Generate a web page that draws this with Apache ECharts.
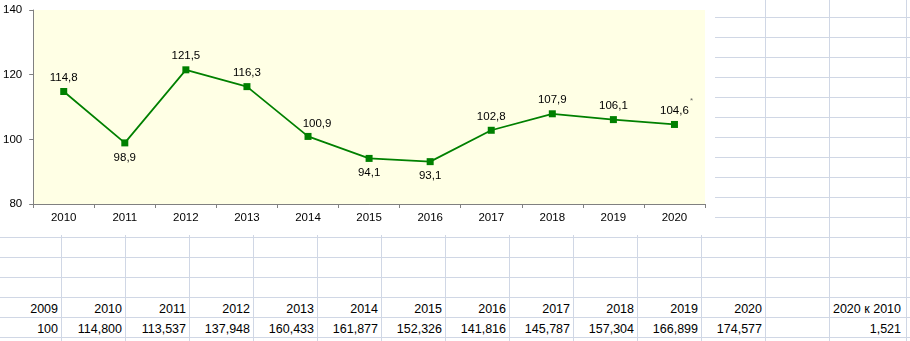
<!DOCTYPE html>
<html>
<head>
<meta charset="utf-8">
<script src="https://cdn.jsdelivr.net/npm/echarts@6/dist/echarts.min.js"></script>
<style>
  html, body { margin: 0; padding: 0; background: #fff; }
  #sheet { position: absolute; left: 0; top: 0; width: 910px; height: 341px; overflow: hidden;
           font-family: "Liberation Sans", Arial, sans-serif; font-size: 12.5px; color: #000; }
  .vl { position: absolute; top: 0; width: 1px; height: 341px; background: #D0D7E5; }
  .hl { position: absolute; left: 0; width: 910px; height: 1px; background: #D0D7E5; }
  .cell { position: absolute; height: 20px; line-height: 20px; text-align: right; white-space: nowrap; }
  #chart { position: absolute; left: 0; top: 0; width: 715px; height: 235px; background: #fff; }
</style>
</head>
<body>
<div id="sheet"></div>
<div id="chart"></div>
<script>
// Year-on-year index, % (2020 marked as preliminary)
const years = ['2010', '2011', '2012', '2013', '2014', '2015', '2016', '2017', '2018', '2019', '2020'];
const yearIndex = [114.8, 98.9, 121.5, 116.3, 100.9, 94.1, 93.1, 102.8, 107.9, 106.1, 104.6];
const axisMin = 80, axisMax = 140, axisStep = 20;

// Worksheet rows below the chart: chained index (2009 = 100)
const tableYears = ['2009', '2010', '2011', '2012', '2013', '2014', '2015', '2016', '2017', '2018', '2019', '2020'];
const chainedIndex = [100, 114.800, 113.537, 137.948, 160.433, 161.877, 152.326, 141.816, 145.787, 157.304, 166.899, 174.577];
const ratioLabel = '2020 к 2010';
const ratioValue = 1.521;

// ---- worksheet grid ----
const colEdges = [61, 125, 189, 253, 317, 381, 445, 509, 573, 637, 701, 765, 829, 906];
const rowEdges = [17, 37, 57, 77, 97, 117, 137, 157, 177, 197, 217, 237, 257, 277, 297, 317, 337];
const sheet = document.getElementById('sheet');
colEdges.forEach(x => {
  const d = document.createElement('div'); d.className = 'vl'; d.style.left = x + 'px'; sheet.appendChild(d);
});
rowEdges.forEach(y => {
  const d = document.createElement('div'); d.className = 'hl'; d.style.top = y + 'px'; sheet.appendChild(d);
});
function putCell(col, rowLine, text, pad) {
  const left = col === 0 ? -3 : colEdges[col - 1];
  const right = colEdges[col];
  const d = document.createElement('div');
  d.className = 'cell';
  d.style.left = (left + 1) + 'px';
  d.style.width = (right - left - 1 - pad) + 'px';
  d.style.top = (rowLine + 2) + 'px';
  d.textContent = text;
  sheet.appendChild(d);
}
const fmt3 = v => Number.isInteger(v) && v === 100 ? '100' : v.toFixed(3).replace('.', ',');
tableYears.forEach((t, i) => putCell(i, 297, t, 3));
chainedIndex.forEach((v, i) => putCell(i, 317, fmt3(v), 3));
putCell(13, 297, ratioLabel, 5);
putCell(13, 317, ratioValue.toFixed(3).replace('.', ','), 5);

// ---- chart ----
const font = '"Liberation Sans", Arial, sans-serif';
const labelsBelow = [1, 5, 6];
const labelShift = { 4: [9, 1] };
const chart = echarts.init(document.getElementById('chart'), null, { renderer: 'canvas' });
const fmt1 = v => v.toFixed(1).replace('.', ',');

chart.setOption({
  backgroundColor: '#ffffff',
  animation: false,
  textStyle: { fontFamily: font },
  grid: { left: 33, top: 10, width: 672, height: 194, show: true, backgroundColor: '#FFFFE5', borderWidth: 0, containLabel: false },
  xAxis: {
    type: 'category',
    data: years,
    boundaryGap: true,
    axisLine: { lineStyle: { color: '#808080', width: 1 } },
    axisTick: { show: true, length: 4, inside: false, lineStyle: { color: '#808080' } },
    axisLabel: { color: '#000', fontSize: 11.5, fontFamily: font, margin: 8 },
    splitLine: { show: false }
  },
  yAxis: {
    type: 'value',
    min: axisMin, max: axisMax, interval: axisStep,
    axisLine: { show: true, lineStyle: { color: '#808080', width: 1 } },
    axisTick: { show: true, length: 4, lineStyle: { color: '#808080' } },
    axisLabel: { color: '#000', fontSize: 11.5, fontFamily: font, margin: 11 },
    splitLine: { show: false }
  },
  series: [
    {
      type: 'line',
      data: yearIndex.map((v, i) => ({
        value: v,
        label: {
          position: labelsBelow.includes(i) ? 'bottom' : 'top',
          distance: labelsBelow.includes(i) ? 5 : 4,
          offset: labelShift[i] || [0, 0]
        }
      })),
      symbol: 'rect',
      symbolSize: 7,
      itemStyle: { color: '#008000' },
      lineStyle: { color: '#008000', width: 1.75 },
      label: {
        show: true,
        color: '#000',
        fontSize: 11.5,
        fontFamily: font,
        formatter: p => fmt1(p.value)
      },
      z: 3
    },
    {
      // footnote mark next to the preliminary 2020 value
      type: 'scatter',
      data: yearIndex.map((v, i) => i === yearIndex.length - 1 ? v : '-'),
      symbolSize: 0,
      silent: true,
      label: {
        show: true,
        position: 'inside',
        offset: [17, -24],
        formatter: '*',
        fontSize: 8,
        color: '#404040',
        fontFamily: font
      },
      z: 4
    }
  ]
});
</script>
</body>
</html>
